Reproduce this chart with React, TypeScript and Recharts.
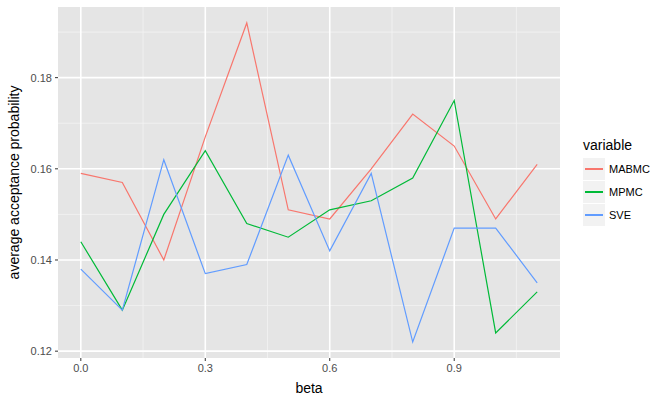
import { LineChart, Line, XAxis, YAxis, CartesianGrid, ReferenceLine } from 'recharts';

// beta values on the x axis
const betas = [0.0, 0.1, 0.2, 0.3, 0.4, 0.5, 0.6, 0.7, 0.8, 0.9, 1.0, 1.1];

// average acceptance probability per method
const mabmc = [0.159, 0.157, 0.14, 0.167, 0.192, 0.151, 0.149, 0.16, 0.172, 0.165, 0.149, 0.161];
const mpmc = [0.144, 0.129, 0.15, 0.164, 0.148, 0.145, 0.151, 0.153, 0.158, 0.175, 0.124, 0.133];
const sve = [0.138, 0.129, 0.162, 0.137, 0.139, 0.163, 0.142, 0.159, 0.122, 0.147, 0.147, 0.135];

const xTicks = [0, 0.3, 0.6, 0.9];
const xMinor = [0.15, 0.45, 0.75, 1.05];
const yTicks = [0.12, 0.14, 0.16, 0.18];
const yMinor = [0.13, 0.15, 0.17, 0.19];

const series = [
  { key: 'MABMC', color: '#F8766D' },
  { key: 'MPMC', color: '#00BA38' },
  { key: 'SVE', color: '#619CFF' },
];

const data = betas.map((b, i) => ({
  beta: b,
  MABMC: mabmc[i],
  MPMC: mpmc[i],
  SVE: sve[i],
}));

const FONT = '"Liberation Sans", Arial, sans-serif';

export default function App() {
  return (
    <div style={{ position: 'absolute', left: 0, top: 0, width: 667, height: 398, fontFamily: FONT, background: '#fff' }}>
      <LineChart width={667} height={398} data={data} margin={{ top: 7, right: 107, bottom: 0, left: 0 }}>
        <CartesianGrid fill="#E5E5E5" stroke="none" />
        {xMinor.map((v) => (
          <ReferenceLine key={'x' + v} x={v} stroke="#F2F2F2" strokeWidth={0.8} />
        ))}
        {yMinor.map((v) => (
          <ReferenceLine key={'y' + v} y={v} stroke="#F2F2F2" strokeWidth={0.8} />
        ))}
        {xTicks.map((v) => (
          <ReferenceLine key={'X' + v} x={v} stroke="#FFFFFF" strokeWidth={1.6} />
        ))}
        {yTicks.map((v) => (
          <ReferenceLine key={'Y' + v} y={v} stroke="#FFFFFF" strokeWidth={1.6} />
        ))}
        <XAxis
          type="number"
          dataKey="beta"
          domain={[-0.055, 1.155]}
          ticks={xTicks}
          tickFormatter={(v) => v.toFixed(1)}
          axisLine={false}
          tickLine={{ stroke: '#333333' }}
          tickSize={3}
          tickMargin={3}
          height={40}
          allowDataOverflow
          tick={{ fill: '#4D4D4D', fontSize: 11, fontFamily: FONT }}
          label={{ value: 'beta', position: 'insideBottom', offset: 5, fill: '#000', fontSize: 14, fontFamily: FONT }}
        />
        <YAxis
          type="number"
          domain={[0.1185, 0.1955]}
          ticks={yTicks}
          tickFormatter={(v) => v.toFixed(2)}
          axisLine={false}
          tickLine={{ stroke: '#333333' }}
          tickSize={3}
          tickMargin={3}
          width={58}
          allowDataOverflow
          tick={{ fill: '#4D4D4D', fontSize: 11, fontFamily: FONT }}
          label={{
            value: 'average acceptance probability',
            angle: -90,
            position: 'insideLeft',
            offset: 14,
            fill: '#000',
            fontSize: 14,
            fontFamily: FONT,
            style: { textAnchor: 'middle' },
          }}
        />
        {series.map((s) => (
          <Line
            key={s.key}
            type="linear"
            dataKey={s.key}
            stroke={s.color}
            strokeWidth={1.2}
            dot={false}
            isAnimationActive={false}
          />
        ))}
      </LineChart>
      <div style={{ position: 'absolute', left: 583, top: 137 }}>
        <div style={{ fontSize: 14, lineHeight: '16px', color: '#000', marginBottom: 4 }}>variable</div>
        {series.map((s) => (
          <div key={s.key} style={{ display: 'flex', alignItems: 'center', height: 23 }}>
            <div style={{ width: 22, height: 22, background: '#F2F2F2', position: 'relative' }}>
              <div style={{ position: 'absolute', left: 2, width: 18, top: 10, height: 2, background: s.color }} />
            </div>
            <span style={{ fontSize: 11, marginLeft: 4, color: '#000' }}>{s.key}</span>
          </div>
        ))}
      </div>
    </div>
  );
}
